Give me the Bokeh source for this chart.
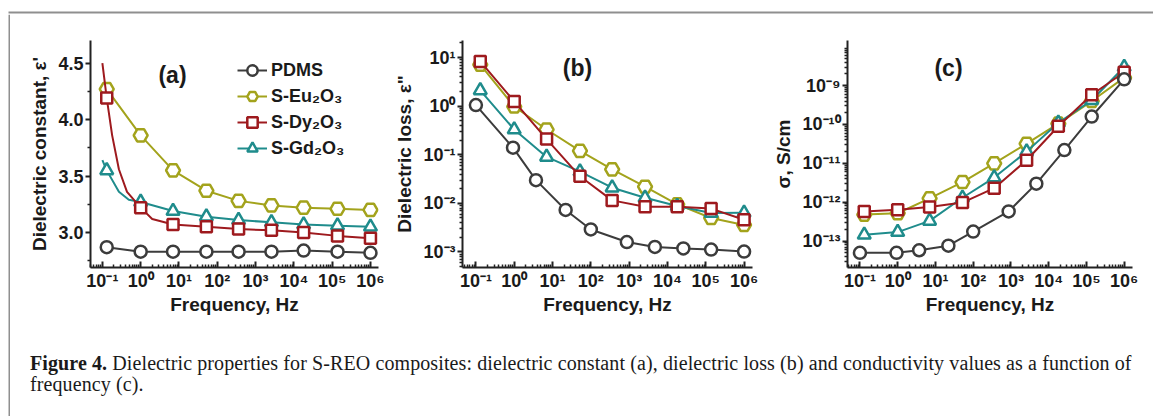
from bokeh.plotting import figure
from bokeh.models import (Range1d, FixedTicker, CustomJSTickFormatter, Legend,
                          LegendItem, Label, Div)
from bokeh.layouts import row, column
from bokeh.embed import file_html
from bokeh.resources import INLINE

# ---------------- data ----------------
series_names = ["PDMS", "S-Eu\u2082O\u2083", "S-Dy\u2082O\u2083", "S-Gd\u2082O\u2083"]

freq = [0.13, 1.0, 7.0, 52, 360, 2600, 18000, 138000, 1.0e6]
freq_pdms = [0.1, 0.93, 3.7, 22, 100, 870, 4700, 26000, 138000, 1.0e6]

# (a) dielectric constant
pdms_a = [2.87, 2.83, 2.83, 2.83, 2.83, 2.83, 2.84, 2.83, 2.82]
eu_a = [4.27, 3.86, 3.55, 3.37, 3.28, 3.24, 3.22, 3.21, 3.20]
dy_a = [4.19, 3.22, 3.07, 3.05, 3.03, 3.02, 3.00, 2.97, 2.95]
gd_a = [3.55, 3.27, 3.19, 3.14, 3.11, 3.09, 3.07, 3.06, 3.05]
# fitted curves in (a)
eu_a_curve_f = [0.1, 0.13, 1.0, 7.0, 52, 360, 2600, 18000, 138000, 1.0e6]
eu_a_curve_v = [4.31, 4.27, 3.86, 3.55, 3.37, 3.28, 3.24, 3.22, 3.21, 3.20]
dy_a_curve_f = [0.1, 0.13, 0.18, 0.27, 0.44, 1.0, 2.0, 7.0, 52, 360, 2600, 18000, 138000, 1.0e6]
dy_a_curve_v = [4.50, 4.19, 3.86, 3.56, 3.36, 3.22, 3.12, 3.07, 3.05, 3.03, 3.02, 3.00, 2.97, 2.95]
gd_a_curve_f = [0.1, 0.13, 0.27, 0.49, 1.0, 7.0, 52, 360, 2600, 18000, 138000, 1.0e6]
gd_a_curve_v = [3.64, 3.55, 3.36, 3.29, 3.27, 3.19, 3.14, 3.11, 3.09, 3.07, 3.06, 3.05]
pdms_a_curve_f = [0.13, 1.0, 7.0, 52, 360, 2600, 18000, 138000, 1.0e6]
pdms_a_curve_v = [2.87, 2.83, 2.83, 2.83, 2.83, 2.83, 2.84, 2.83, 2.82]

# (b) dielectric loss
pdms_b = [1.05, 0.14, 0.030, 0.0073, 0.0029, 0.0016, 0.00127, 0.00118, 0.00112, 0.00102]
eu_b = [7.1, 0.98, 0.33, 0.12, 0.050, 0.022, 0.0095, 0.0050, 0.0036]
dy_b = [8.3, 1.25, 0.21, 0.036, 0.0115, 0.0085, 0.0085, 0.0078, 0.0046]
gd_b = [2.1, 0.33, 0.09, 0.045, 0.021, 0.013, 0.0088, 0.0063, 0.0064]

# (c) conductivity
pdms_c = [5.0e-14, 5.0e-14, 5.8e-14, 7.6e-14, 1.75e-13, 5.8e-13, 3.0e-12, 2.2e-11, 1.6e-10, 1.45e-9]
eu_c = [4.8e-13, 5.2e-13, 1.25e-12, 3.3e-12, 1.0e-11, 3.2e-11, 1.05e-10, 4.0e-10, 1.6e-9]
dy_c = [5.8e-13, 6.4e-13, 7.5e-13, 9.8e-13, 2.3e-12, 1.2e-11, 9.0e-11, 5.8e-10, 2.2e-9]
gd_c = [1.45e-13, 1.7e-13, 3.3e-13, 1.3e-12, 4.3e-12, 2.0e-11, 1.1e-10, 4.2e-10, 3.0e-9]

x_decades = [-1, 0, 1, 2, 3, 4, 5, 6]
a_ticks = [3.0, 3.5, 4.0, 4.5]
b_decades = [-3, -2, -1, 0, 1]
c_decades = [-13, -12, -11, -10, -9]

caption_bold = "Figure 4."
caption_rest = ("Dielectric properties for S-REO composites: dielectric constant (a), "
                "dielectric loss (b) and conductivity values as a function of")
caption_line2 = "frequency (c)."

# ---------------- styles ----------------
COL = {"PDMS": "#3c3c3c", "Eu": "#a3a31c", "Dy": "#9e1a1e", "Gd": "#1f8c8c"}
MARK = {"PDMS": ("circle", 12), "Eu": ("hex", 14), "Dy": ("square", 11), "Gd": ("triangle", 13)}
FONT = "Liberation Sans"
FRAME = "#8f8f8f"

SUP_JS = """
const sup = {"-":"\u207b","0":"\u2070","1":"\u00b9","2":"\u00b2","3":"\u00b3",
             "4":"\u2074","5":"\u2075","6":"\u2076","7":"\u2077","8":"\u2078","9":"\u2079"};
const e = Math.round(Math.log10(tick));
return "10" + String(e).split("").map(c => sup[c]).join("");
"""


def log_minor(dec_lo, dec_hi):
    out = []
    for k in range(dec_lo, dec_hi + 1):
        for m in range(2, 10):
            out.append(m * 10.0 ** k)
    return out


def make_fig(xr, yr, ylog, bl, br, ylabel):
    p = figure(width=380, height=304, x_axis_type="log",
               y_axis_type="log" if ylog else "linear",
               x_range=Range1d(10 ** xr[0], 10 ** xr[1]),
               y_range=Range1d(*((10 ** yr[0], 10 ** yr[1]) if ylog else yr)),
               output_backend="svg", toolbar_location=None,
               min_border_left=bl, min_border_right=br,
               min_border_top=26, min_border_bottom=51)
    p.grid.visible = False
    p.outline_line_color = None
    for ax in (p.xaxis[0], p.yaxis[0]):
        ax.axis_line_width = 2
        ax.axis_line_color = "#222222"
        ax.major_tick_line_width = 2
        ax.major_tick_line_color = "#222222"
        ax.minor_tick_line_width = 1.5
        ax.minor_tick_line_color = "#222222"
        ax.major_label_text_font = FONT
        ax.major_label_text_font_style = "bold"
        ax.major_label_text_font_size = "18px"
        ax.major_label_text_color = "#1a1a1a"
        ax.axis_label_text_font = FONT
        ax.axis_label_text_font_style = "bold"
        ax.axis_label_text_font_size = "19px"
        ax.axis_label_text_color = "#1a1a1a"
    xa = p.xaxis[0]
    xa.ticker = FixedTicker(ticks=[10.0 ** k for k in x_decades], minor_ticks=log_minor(-2, 6))
    xa.formatter = CustomJSTickFormatter(code=SUP_JS)
    xa.major_tick_in = 6
    xa.major_tick_out = 0
    xa.minor_tick_in = 3
    xa.minor_tick_out = 0
    xa.major_label_standoff = 3
    xa.axis_label = "Frequency, Hz"
    xa.axis_label_standoff = 0
    ya = p.yaxis[0]
    ya.major_tick_in = 0
    ya.major_tick_out = 5
    ya.minor_tick_in = 0
    ya.minor_tick_out = 3
    ya.major_label_standoff = 2
    ya.axis_label = ylabel
    ya.axis_label_standoff = 5
    return p


def add_series(p, fx, fy, key, cx=None, cy=None):
    lx = cx if cx is not None else fx
    ly = cy if cy is not None else fy
    lr = p.line(lx, ly, line_color=COL[key], line_width=2)
    m, s = MARK[key]
    sr = p.scatter(fx, fy, marker=m, size=s, fill_color="white",
                   line_color=COL[key], line_width=2.5)
    return [lr, sr]


def bar_fig(w, h, left, right, bottom, top):
    f = figure(width=w, height=h, x_range=Range1d(0, w), y_range=Range1d(0, h),
               output_backend="svg", toolbar_location=None, min_border=0)
    f.axis.visible = False
    f.grid.visible = False
    f.outline_line_color = None
    f.quad(left=[left], right=[right], bottom=[bottom], top=[top],
           fill_color=FRAME, line_color=None)
    return f


def panel_label(p, x, y, text):
    p.add_layout(Label(x=x, y=y, x_units="screen", y_units="screen", text=text,
                       text_font=FONT, text_font_style="bold", text_font_size="23px",
                       text_align="center", text_baseline="middle", text_color="#1a1a1a"))


# ---------------- panel (a) ----------------
p1 = make_fig((-1.31, 6.21), (2.69, 4.70), False, 80, 12, "Dielectric constant, \u03b5'")
p1.yaxis[0].ticker = FixedTicker(ticks=a_ticks, minor_ticks=[2.75, 3.25, 3.75, 4.25])
p1.yaxis[0].formatter = CustomJSTickFormatter(code="return tick.toFixed(1);")
r_eu = add_series(p1, freq, eu_a, "Eu", eu_a_curve_f, eu_a_curve_v)
r_gd = add_series(p1, freq, gd_a, "Gd", gd_a_curve_f, gd_a_curve_v)
r_dy = add_series(p1, freq, dy_a, "Dy", dy_a_curve_f, dy_a_curve_v)
r_pd = add_series(p1, freq, pdms_a, "PDMS", pdms_a_curve_f, pdms_a_curve_v)
legend = Legend(items=[LegendItem(label=series_names[0], renderers=r_pd),
                       LegendItem(label=series_names[1], renderers=r_eu),
                       LegendItem(label=series_names[2], renderers=r_dy),
                       LegendItem(label=series_names[3], renderers=r_gd)],
                location=(147, 106), border_line_color=None, background_fill_alpha=0,
                label_text_font=FONT, label_text_font_style="bold",
                label_text_font_size="18px", label_text_color="#1a1a1a",
                glyph_width=30, glyph_height=26, label_height=26, spacing=0,
                padding=0, margin=0, label_standoff=4)
p1.add_layout(legend)
panel_label(p1, 82, 193, "(a)")

# ---------------- panel (b) ----------------
p2 = make_fig((-1.35, 6.22), (-3.32, 1.35), True, 72, 18, 'Dielectric loss, \u03b5"')
p2.yaxis[0].ticker = FixedTicker(ticks=[10.0 ** k for k in b_decades], minor_ticks=log_minor(-4, 1))
p2.yaxis[0].formatter = CustomJSTickFormatter(code=SUP_JS)
add_series(p2, freq, eu_b, "Eu")
add_series(p2, freq, gd_b, "Gd")
add_series(p2, freq, dy_b, "Dy")
add_series(p2, freq_pdms, pdms_b, "PDMS")
panel_label(p2, 115, 200, "(b)")

# ---------------- panel (c) ----------------
p3 = make_fig((-1.33, 6.22), (-13.68, -7.84), True, 74, 18, "\u03c3, S/cm")
p3.yaxis[0].ticker = FixedTicker(ticks=[10.0 ** k for k in c_decades], minor_ticks=log_minor(-14, -9))
p3.yaxis[0].formatter = CustomJSTickFormatter(code=SUP_JS)
add_series(p3, freq, eu_c, "Eu")
add_series(p3, freq, gd_c, "Gd")
add_series(p3, freq, dy_c, "Dy")
add_series(p3, freq_pdms, pdms_c, "PDMS")
panel_label(p3, 101, 200, "(c)")

# ---------------- frame + caption ----------------
top_line = bar_fig(1153, 14, 8, 1153, 1, 3)
left_line = bar_fig(10, 402, 8, 10, 0, 402)
caption = Div(text=('<div style="padding:35px 0 0 20px;font-family:\'Liberation Serif\',serif;'
                    'font-size:20px;line-height:21px;color:#1a1a1a;white-space:nowrap;'
                    'letter-spacing:0.1px">'
                    '<b>' + caption_bold + '</b> ' + caption_rest + '<br>' + caption_line2 +
                    '</div>'),
              width=1140, height=84, margin=0)

layout = column(top_line, row(left_line, column(row(p1, p2, p3), caption)))

open("out.html", "w").write(file_html(layout, INLINE))
